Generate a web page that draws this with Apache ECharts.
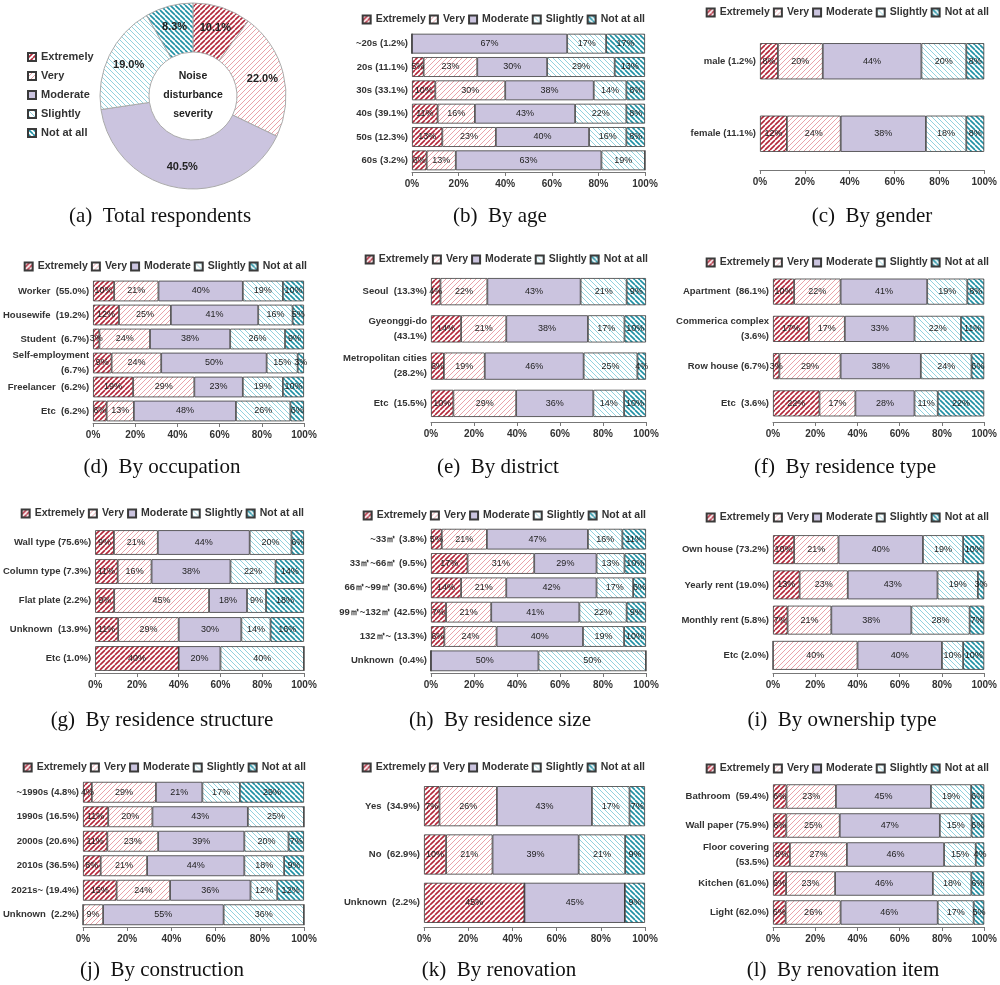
<!DOCTYPE html>
<html><head><meta charset="utf-8">
<script src="https://cdn.jsdelivr.net/npm/echarts@6/dist/echarts.min.js"></script>
<style>html,body{margin:0;padding:0;background:#fff}#c{width:1000px;height:985px}</style>
</head><body><div id="c"></div>
<script>
const SEVERITY = ['Extremely','Very','Moderate','Slightly','Not at all'];
const totalValues = [10.1, 22.0, 40.5, 19.0, 8.3];
const xTicks = [0,20,40,60,80,100];

const ageCats = ['~20s (1.2%)','20s (11.1%)','30s (33.1%)','40s (39.1%)','50s (12.3%)','60s (3.2%)'];
const ageVals = [[0,0,66.6,16.7,16.7],[5,23,30,29,13],[10,30,38,14,8],[11,16,43,22,8],[13,23,40,16,8],[6.3,12.5,62.5,18.7,0]];
const genderCats = ['male (1.2%)','female (11.1%)'];
const genderVals = [[8,20,44,20,8],[12,24,38,18,8]];
const occCats = ['Worker  (55.0%)','Housewife  (19.2%)','Student  (6.7%)','Self-employment\n(6.7%)','Freelancer  (6.2%)','Etc  (6.2%)'];
const occVals = [[10,21,40,19,10],[12.3,24.6,41.4,16.3,5.4],[3,24,38,26,9],[8.8,23.5,50,14.7,3],[19,29,23,19,10],[6.45,12.9,48.4,25.8,6.45]];
const distCats = ['Seoul  (13.3%)','Gyeonggi-do\n(43.1%)','Metropolitan cities\n(28.2%)','Etc  (15.5%)'];
const distVals = [[4.4,21.8,43.4,21.4,9],[14,21,38,17,10],[6,19,46,25,4],[10.4,29.2,35.9,14.3,10.2]];
const resCats = ['Apartment  (86.1%)','Commerica complex\n(3.6%)','Row house (6.7%)','Etc  (3.6%)'];
const resVals = [[10,22,41,19,8],[17,17,33,22,11],[3,29,38,24,6],[22,17,28,11,22]];
const strCats = ['Wall type (75.6%)','Column type (7.3%)','Flat plate (2.2%)','Unknown  (13.9%)','Etc (1.0%)'];
const strVals = [[9,21,44,20,6],[10.8,16.2,37.8,21.6,13.6],[9.09,45.45,18.18,9.09,18.19],[11,29,30,14,16],[40,0,20,40,0]];
const sizeCats = ['~33㎡ (3.8%)','33㎡~66㎡ (9.5%)','66㎡~99㎡ (30.6%)','99㎡~132㎡ (42.5%)','132㎡~ (13.3%)','Unknown  (0.4%)'];
const sizeVals = [[5,21,47,16,11],[17,31,29,13,10],[14,21,42,17,6],[7,21,41,22,9],[6.2,24.3,40.2,19.1,10.2],[0,0,50,50,0]];
const ownCats = ['Own house (73.2%)','Yearly rent (19.0%)','Monthly rent (5.8%)','Etc (2.0%)'];
const ownVals = [[10,21,40,19,10],[12.6,22.8,42.5,19.1,3],[6.9,20.7,37.9,27.6,6.9],[0,40,40,10,10]];
const conCats = ['~1990s (4.8%)','1990s (16.5%)','2000s (20.6%)','2010s (36.5%)','2021s~ (19.4%)','Unknown  (2.2%)'];
const conVals = [[4,29,21,17,29],[11.4,20,43.2,25.4,0],[11,23,39,20,7],[8,21,44,18,9],[15.2,24.2,36.4,12.1,12.1],[0,9.09,54.55,36.36,0]];
const renCats = ['Yes  (34.9%)','No  (62.9%)','Unknown  (2.2%)'];
const renVals = [[7,26,43,17,7],[10,21,39,21,9],[45.45,0,45.45,0,9.1]];
const itemCats = ['Bathroom  (59.4%)','Wall paper (75.9%)','Floor covering\n(53.5%)','Kitchen (61.0%)','Light (62.0%)'];
const itemVals = [[6.4,23.4,45,19,6.2],[6.3,25.3,47.4,15,6],[8,27,46,15,4],[6.2,23.2,46.3,18.2,6.1],[6,26,46,17,5]];

function hatch(fg, dir, size, lw) {
  const c = document.createElement('canvas'); c.width = c.height = size;
  const g = c.getContext('2d'); g.fillStyle = '#fff'; g.fillRect(0,0,size,size);
  g.strokeStyle = fg; g.lineWidth = lw; g.beginPath();
  for (const k of [-size, 0, size]) {
    if (dir === '/') { g.moveTo(k, size); g.lineTo(k + size, 0); }
    else { g.moveTo(k, 0); g.lineTo(k + size, size); }
  }
  g.stroke();
  return { image: c, repeat: 'repeat' };
}
const fills = [
  hatch('#b3283a', '/', 5, 1.6),
  hatch('#e9a3aa', '/', 5, 1.0),
  '#cbc4df',
  hatch('#92d2de', '\\', 5, 1.0),
  hatch('#1f90a4', '\\', 5, 1.6)
];

const SANS = 'Liberation Sans, Arial, sans-serif';
const panels = [
  {cats: ageCats, vals: ageVals, cap: '(b)  By age', g: [412,645,32,172], gap: '15%', lg: [14,355], cx: 500, cy: 216},
  {cats: genderCats, vals: genderVals, cap: '(c)  By gender', g: [760,987,25,170], gap: '50%', lg: [7,11], cx: 872, cy: 216},
  {cats: occCats, vals: occVals, cap: '(d)  By occupation', g: [89,304,279,423], gap: '14%', lg: [261,693], cx: 162, cy: 467},
  {cats: distCats, vals: distVals, cap: '(e)  By district', g: [431,646,273,422], gap: '27%', lg: [254,352], cx: 498, cy: 467},
  {cats: resCats, vals: resVals, cap: '(f)  By residence type', g: [773,988,273,422], gap: '30%', lg: [257,11], cx: 845, cy: 467},
  {cats: strCats, vals: strVals, cap: '(g)  By residence structure', g: [89,304,528,673], gap: '15%', lg: [508,696], cx: 162, cy: 720},
  {cats: sizeCats, vals: sizeVals, cap: '(h)  By residence size', g: [431,646,527,673], gap: '15%', lg: [510,354], cx: 500, cy: 720},
  {cats: ownCats, vals: ownVals, cap: '(i)  By ownership type', g: [773,988,532,673], gap: '18%', lg: [512,11], cx: 842, cy: 720},
  {cats: conCats, vals: conVals, cap: '(j)  By construction', g: [83,304,780,927], gap: '15%', lg: [762,694], cx: 162, cy: 970},
  {cats: renCats, vals: renVals, cap: '(k)  By renovation', g: [424,645,782,927], gap: '17%', lg: [762,355], cx: 499, cy: 970},
  {cats: itemCats, vals: itemVals, cap: '(l)  By renovation item', g: [773,988,782,927], gap: '16%', lg: [763,11], cx: 843, cy: 970}
];

const grid = [], xAxis = [], yAxis = [], series = [], legend = [], title = [];
const W = 1000, H = 985;
panels.forEach((p, i) => {
  grid.push({left: p.g[0], right: W - p.g[1], top: p.g[2], bottom: H - p.g[3], containLabel: false});
  xAxis.push({type: 'value', gridIndex: i, min: 0, max: 100, interval: 20,
    axisLine: {show: true, lineStyle: {color: '#777', width: 1}},
    axisTick: {show: true, length: 4, lineStyle: {color: '#777'}},
    splitLine: {show: false},
    axisLabel: {formatter: '{value}%', fontSize: 10, fontWeight: 'bold', color: '#333', fontFamily: SANS, margin: 7}});
  yAxis.push({type: 'category', gridIndex: i, data: p.cats, inverse: true,
    axisLine: {show: false}, axisTick: {show: false},
    axisLabel: {fontSize: 9.5, fontWeight: 'bold', color: '#333', fontFamily: SANS, margin: 4, lineHeight: 15}});
  SEVERITY.forEach((s, k) => {
    series.push({type: 'bar', name: s, stack: 'p' + i, xAxisIndex: i, yAxisIndex: i,
      barCategoryGap: p.gap,
      data: p.vals.map(r => r[k]),
      itemStyle: {color: fills[k], borderColor: '#3a3a3a', borderWidth: 0.8},
      label: {show: true, position: 'inside', fontSize: 9, color: '#222', fontFamily: SANS,
        formatter: q => q.value > 0 ? Math.round(q.value) + '%' : ''},
      emphasis: {disabled: true}, animation: false});
  });
  legend.push({data: SEVERITY, top: p.lg[0], right: p.lg[1], itemWidth: 8, itemHeight: 8, itemGap: 3,
    padding: 0, selectedMode: false, icon: 'rect',
    textStyle: {fontSize: 10.5, fontWeight: 'bold', color: '#333', fontFamily: SANS}});
  title.push({text: p.cap, left: p.cx, top: p.cy - 12, textAlign: 'center', padding: 0,
    textStyle: {fontFamily: 'Liberation Serif, Times New Roman, serif', fontSize: 21, fontWeight: 'normal', color: '#111', lineHeight: 24}});
});

// panel (a)
legend.push({data: SEVERITY, orient: 'vertical', left: 27, top: 50, itemWidth: 8, itemHeight: 8, itemGap: 5,
  padding: 0, selectedMode: false, icon: 'rect',
  textStyle: {fontSize: 11, fontWeight: 'bold', color: '#333', fontFamily: SANS, lineHeight: 14}});
title.push({text: '(a)  Total respondents', left: 160, top: 204, textAlign: 'center', padding: 0,
  textStyle: {fontFamily: 'Liberation Serif, Times New Roman, serif', fontSize: 21, fontWeight: 'normal', color: '#111', lineHeight: 24}});
title.push({text: 'Noise\ndisturbance\nseverity', left: 193, top: 67, textAlign: 'center', padding: 0,
  textStyle: {fontFamily: SANS, fontSize: 10.5, fontWeight: 'bold', color: '#222', lineHeight: 19}});
series.push({type: 'pie', center: [193, 96], radius: [44, 93], startAngle: 90, clockwise: true,
  animation: false, emphasis: {disabled: true},
  data: SEVERITY.map((s, k) => ({name: s, value: totalValues[k], itemStyle: {color: fills[k]}})),
  itemStyle: {borderColor: '#aaa', borderWidth: 1},
  label: {show: true, position: 'inside', fontSize: 11, fontWeight: 'bold', color: '#222', fontFamily: SANS,
    formatter: q => q.value.toFixed(1) + '%'},
  labelLine: {show: false}});

const chart = echarts.init(document.getElementById('c'), null, {renderer: 'canvas'});
chart.setOption({animation: false, grid, xAxis, yAxis, series, legend, title});
</script></body></html>
